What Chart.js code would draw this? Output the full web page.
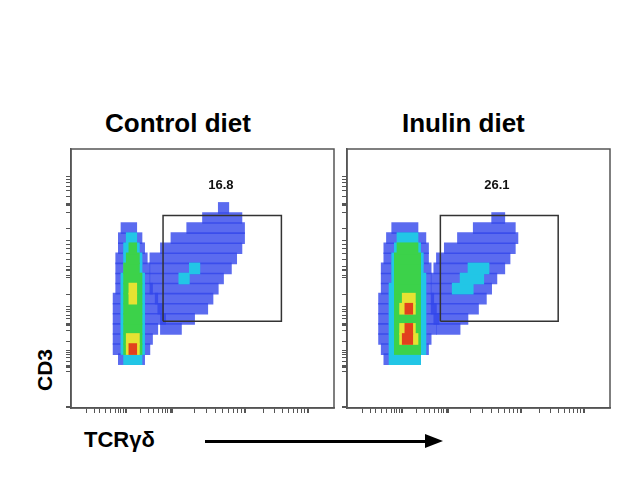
<!DOCTYPE html>
<html>
<head>
<meta charset="utf-8">
<script src="https://cdn.jsdelivr.net/npm/chart.js@4"></script>
<style>
  body { margin: 0; background: #fff; width: 622px; height: 486px; position: relative; overflow: hidden; font-family: "Liberation Sans", Arial, sans-serif; }
  .panel { position: absolute; width: 285px; height: 280px; }
  .title { position: absolute; font-weight: bold; font-size: 26px; top: 108px; }
  .ylab { position: absolute; font-weight: bold; font-size: 21px; left: 24px; top: 358px; transform: rotate(-90deg); }
  .xlab { position: absolute; font-weight: bold; font-size: 22px; left: 84px; top: 427px; }
  .arrow { position: absolute; left: 205px; top: 440px; width: 222px; height: 3px; background: #000; }
  .head { position: absolute; left: 425px; top: 434px; border-left: 18px solid #000; border-top: 7px solid transparent; border-bottom: 7px solid transparent; }
</style>
</head>
<body>
<div class="title" style="left:105px">Control diet</div>
<div class="title" style="left:402px">Inulin diet</div>
<div class="ylab">CD3</div>
<div class="xlab">TCRγδ</div>
<div class="arrow"></div><div class="head"></div>
<div class="panel" style="left:60px;top:140px"><canvas id="left"></canvas></div>
<div class="panel" style="left:336px;top:140px"><canvas id="right"></canvas></div>
<script>
// rows are [y, xStart, xEnd] on a 0-100 plot scale
const leftBlueCol = [[18,18,28],[22,16,30],[26,16,31],[30,16,33],[34,16,36],[38,16,35],[42,16,33],[46,17,31],[50,17,30],[54,17,30],[58,17,29],[62,18,28],[66,18,27],[70,19,25]];
const leftBlueDiag = [[30,34,42],[34,34,47],[38,33,52],[42,32,54],[46,30,56],[50,30,58],[54,30,61],[58,30,63],[62,34,65],[66,38,66],[70,44,66],[74,50,65],[78,56,60]];
const leftCyan = [[18,20,27],[22,19,28],[26,19,28],[30,19,28],[34,19,28],[38,19,28],[42,19,28],[46,19,28],[50,19,28],[54,20,27],[58,20,27],[62,20,26],[66,21,25],[50,41,45],[54,45,49]];
const leftGreen = [[22,20,27],[26,20,27],[30,20,27],[34,20,27],[38,20,27],[42,20,27],[46,20,27],[50,20,27],[54,20,26],[58,21,26],[62,22,25]];
const leftYellow = [[22,21,26],[26,21,26],[42,22,25],[46,22,25]];
const leftRed = [[22,22,25]];

const rightBlueCol = [[18,14,28],[22,13,31],[26,12,32],[30,12,34],[34,12,35],[38,12,34],[42,12,33],[46,13,32],[50,13,32],[54,13,32],[58,14,31],[62,14,31],[66,15,30],[70,17,27]];
const rightBlueDiag = [[30,34,43],[34,33,46],[38,32,50],[42,32,53],[46,32,55],[50,32,57],[54,33,60],[58,34,62],[62,37,64],[66,42,65],[70,48,64],[74,55,60]];
const rightCyan = [[18,16,28],[22,16,30],[26,16,30],[30,16,30],[34,16,30],[38,16,30],[42,16,30],[46,16,30],[50,17,30],[54,17,29],[58,17,29],[62,18,28],[66,19,27],[46,40,48],[50,43,52],[54,46,54]];
const rightGreen = [[22,18,28],[26,18,28],[30,18,28],[34,18,28],[38,18,28],[42,18,28],[46,18,28],[50,18,28],[54,18,28],[58,18,28],[62,19,27]];
const rightYellow = [[26,20,27],[30,20,26],[38,20,26],[42,21,26]];
const rightRed = [[26,21,25],[30,22,25],[38,22,25]];

// gate corners [x, y] and percent labels
const gateLeft = [[35,33],[35,75],[80,75],[80,33],[35,33]];
const gateRight = [[35.5,33],[35.5,75],[80.3,75],[80.3,33],[35.5,33]];
const pctLeft = "16.8", pctRight = "26.1";

const yMajor = [7, 22.7, 40, 67, 91];
const xMajor = [21, 38.5, 66, 90];
const xLow = [6, 9, 11, 13, 15, 17, 18, 19, 20];

function minors(majors) {
  const out = [];
  for (let i = 0; i < majors.length - 1; i++) {
    const span = majors[i + 1] - majors[i];
    for (let k = 2; k <= 9; k++) out.push(majors[i] + span * Math.log10(k));
  }
  return out;
}

const rows = r => r.map(([y, a, b]) => ({ y: y, x: [a, b] }));

function makePanel(id, sets, gate, pct) {
  const colors = ['rgba(50,70,235,0.8)', 'rgba(50,70,235,0.8)', '#22c6e6', '#3cd24a', '#e6e232', '#e2401e'];
  const datasets = sets.map((s, i) => ({
    type: 'bar', data: rows(s), backgroundColor: colors[i],
    barThickness: 11, grouped: false, borderWidth: 0, order: sets.length - i
  }));
  datasets.push({
    type: 'line', data: gate.map(([x, y]) => ({ x, y })), order: -1,
    borderColor: '#333', borderWidth: 1.5, pointRadius: 0, fill: false
  });
  const yTicks = yMajor.concat(minors(yMajor));
  const xTicks = xMajor.concat(minors(xMajor), xLow);
  new Chart(document.getElementById(id), {
    type: 'bar',
    data: { datasets },
    options: {
      indexAxis: 'y',
      responsive: true, maintainAspectRatio: false, animation: false,
      datasets: { bar: { grouped: false } },
      layout: { padding: { left: 6, top: 9, right: 11, bottom: 7 } },
      plugins: { legend: { display: false }, tooltip: { enabled: false } },
      scales: {
        x: {
          type: 'linear', min: 0, max: 100,
          afterBuildTicks: s => { s.ticks = xTicks.map(v => ({ value: v })); },
          ticks: { display: false },
          grid: { drawOnChartArea: false, tickLength: 5, color: '#555',
                  lineWidth: c => xMajor.includes(c.tick && c.tick.value) ? 2 : 1 },
          border: { color: '#555', width: 1.5 }
        },
        y: {
          type: 'linear', min: 0, max: 100,
          afterBuildTicks: s => { s.ticks = yTicks.map(v => ({ value: v })); },
          ticks: { display: false },
          grid: { drawOnChartArea: false, tickLength: 5, color: '#555',
                  lineWidth: c => yMajor.includes(c.tick && c.tick.value) ? 2 : 1 },
          border: { color: '#555', width: 1.5 }
        }
      }
    },
    plugins: [{
      id: 'frame',
      afterDraw(chart) {
        const { ctx, chartArea: a, scales } = chart;
        ctx.save();
        ctx.strokeStyle = '#555';
        ctx.lineWidth = 1.5;
        ctx.strokeRect(a.left, a.top, a.right - a.left, a.bottom - a.top);
        ctx.fillStyle = '#111';
        ctx.font = 'bold 13px "Liberation Sans", Arial';
        ctx.textAlign = 'center';
        ctx.textBaseline = 'middle';
        ctx.fillText(pct, scales.x.getPixelForValue(57), scales.y.getPixelForValue(87));
        ctx.restore();
      }
    }]
  });
}

makePanel('left', [leftBlueCol, leftBlueDiag, leftCyan, leftGreen, leftYellow, leftRed], gateLeft, pctLeft);
makePanel('right', [rightBlueCol, rightBlueDiag, rightCyan, rightGreen, rightYellow, rightRed], gateRight, pctRight);
</script>
</body>
</html>
